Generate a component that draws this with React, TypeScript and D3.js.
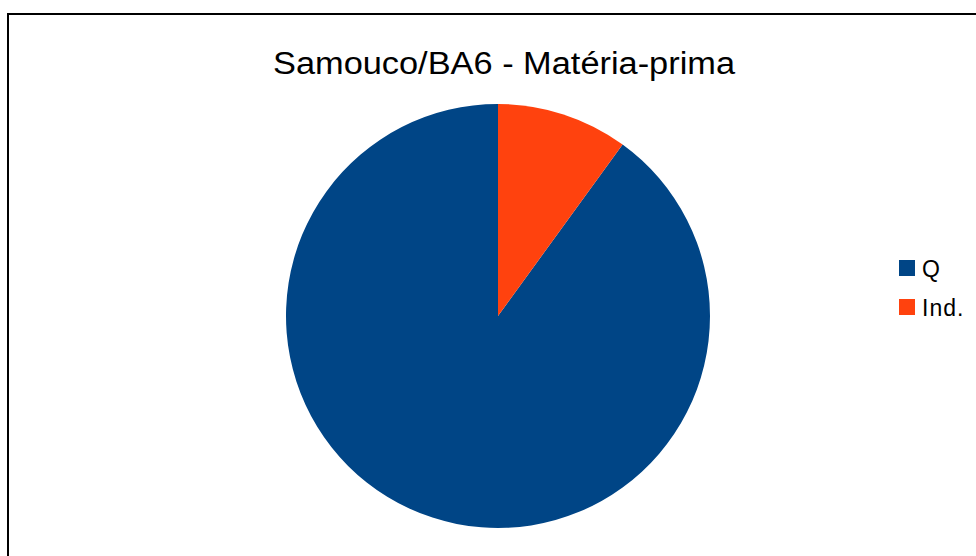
import React from "react";
import * as d3 from "d3";

const categories = ["Q", "Ind."];
const values = [90, 10];
const colors = ["#004586", "#ff420e"];
const title = "Samouco/BA6 - Matéria-prima";

export default function App() {
  const W = 976, H = 556;
  const cx = 498, cy = 316, r = 212;
  const pie = d3.pie<number>().sort(null).startAngle(0).endAngle(-2 * Math.PI);
  const arcs = pie(values);
  const arc = d3.arc<d3.PieArcDatum<number>>().innerRadius(0).outerRadius(r);
  return (
    <svg width={W} height={H} style={{ position: "absolute", left: 0, top: 0 }} fontFamily="Liberation Sans, Arial, sans-serif">
      <rect x={0} y={0} width={W} height={H} fill="#fff" />
      <rect x={8} y={14} width={1100} height={700} fill="none" stroke="#000" strokeWidth={2} />
      <text x={504} y={74} textAnchor="middle" fontSize={31} textLength={462} lengthAdjust="spacingAndGlyphs" fill="#000">{title}</text>
      <g transform={`translate(${cx},${cy})`}>
        {arcs.map((a, i) => (
          <path key={i} d={arc(a) || ""} fill={colors[i]} />
        ))}
      </g>
      {categories.map((c, i) => (
        <g key={c} transform={`translate(899,${260 + i * 39})`}>
          <rect x={0} y={0} width={16} height={16} fill={colors[i]} />
          <text x={23} y={17} fontSize={23} fill="#000" letterSpacing={i === 1 ? 1 : 0}>{c}</text>
        </g>
      ))}
    </svg>
  );
}
